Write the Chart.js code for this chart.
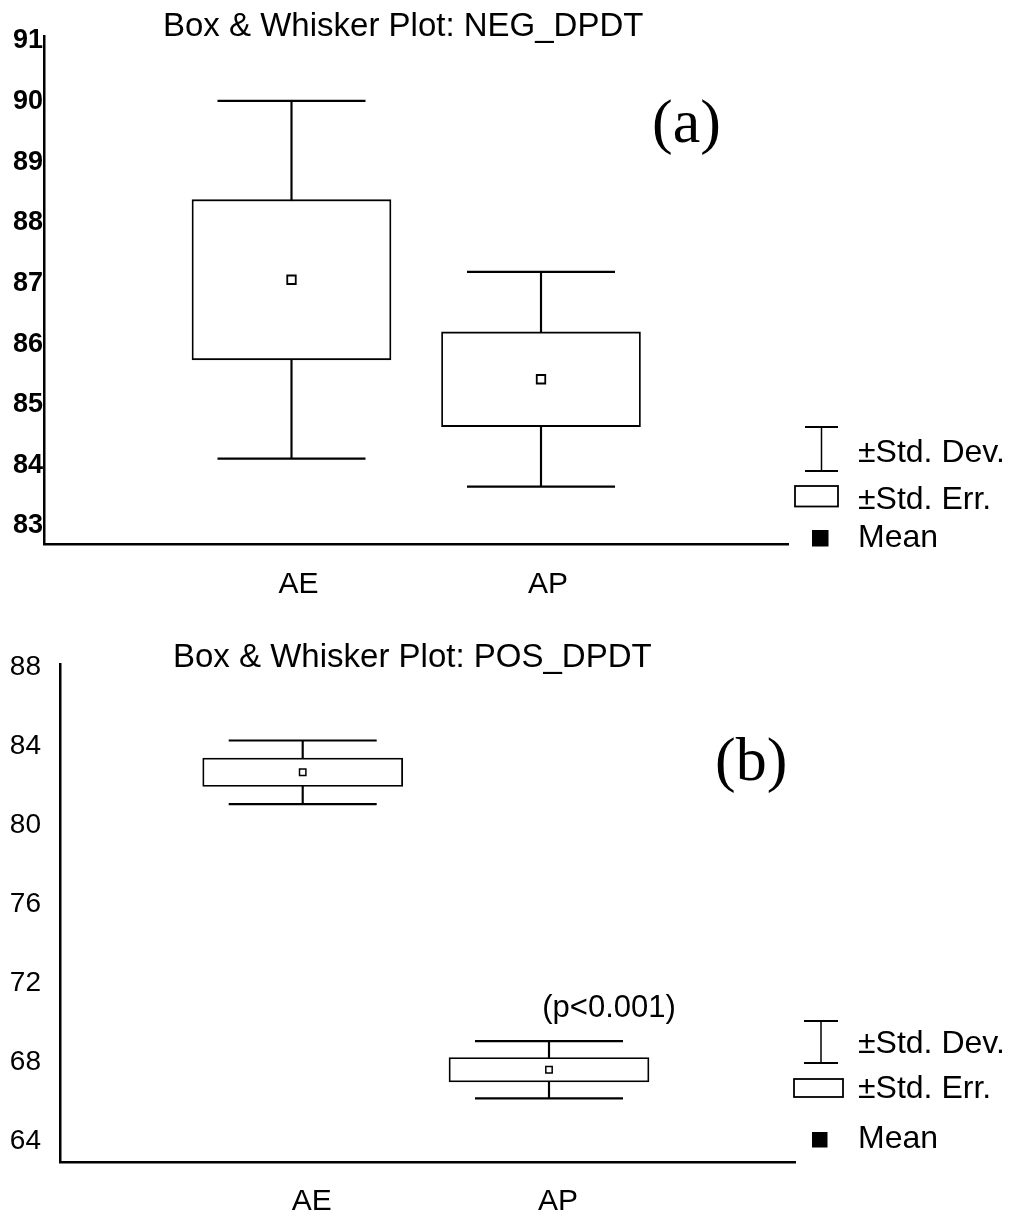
<!DOCTYPE html>
<html>
<head>
<meta charset="utf-8">
<title>Box &amp; Whisker Plots: NEG_DPDT / POS_DPDT</title>
<script src="https://cdn.jsdelivr.net/npm/chart.js@4.4.0/dist/chart.umd.min.js"></script>
<style>
  html, body { margin: 0; padding: 0; background: #fff; }
  #wrap { position: relative; width: 1022px; height: 1216px; overflow: hidden; }
  canvas { position: absolute; left: 0; }
  #neg { top: 0; }
  #pos { top: 600px; }
</style>
</head>
<body>
<div id="wrap">
  <canvas id="neg" width="1022" height="600"></canvas>
  <canvas id="pos" width="1022" height="616"></canvas>
</div>
<script>
// ---- data ----
const categories = ['AE', 'AP'];

// NEG_DPDT: mean, standard error, standard deviation per group
const negMean   = [87.06, 85.42];
const negStdErr = [1.32, 0.78];
const negStdDev = [2.95, 1.77];

// POS_DPDT
const posMean   = [82.69, 67.61];
const posStdErr = [0.72, 0.62];
const posStdDev = [1.61, 1.45];

const negTicks = [83, 84, 85, 86, 87, 88, 89, 90, 91];
const posTicks = [64, 68, 72, 76, 80, 84, 88];

const negTitle = 'Box & Whisker Plot: NEG_DPDT';
const posTitle = 'Box & Whisker Plot: POS_DPDT';
const posNote = '(p<0.001)';
const legendLabels = ['\u00b1Std. Dev.', '\u00b1Std. Err.', 'Mean'];

// ---- drawing helpers ----
const SANS = '"Liberation Sans", Arial, sans-serif';
const SERIF = '"Liberation Serif", "Times New Roman", serif';

function boxDatasets(means, errs, devs, st) {
  const xs = means.map((_, i) => i + 1);
  return [
    { // whisker stem: mean ± SD
      type: 'bar', order: 4, grouped: false, barThickness: st.stem,
      backgroundColor: '#000', borderWidth: 0,
      data: xs.map((x, i) => ({ x, y: [means[i] - devs[i], means[i] + devs[i]] }))
    },
    { // box: mean ± SE
      type: 'bar', order: 3, grouped: false, barThickness: st.box,
      backgroundColor: '#fff', borderColor: '#000', borderWidth: st.boxLine, borderSkipped: false,
      data: xs.map((x, i) => ({ x, y: [means[i] - errs[i], means[i] + errs[i]] }))
    },
    { // whisker caps
      type: 'scatter', order: 2, pointStyle: 'line', pointRadius: st.cap, pointHoverRadius: st.cap,
      borderColor: '#000', borderWidth: st.capLine,
      data: xs.flatMap((x, i) => [{ x, y: means[i] + devs[i] }, { x, y: means[i] - devs[i] }])
    },
    { // mean marker
      type: 'scatter', order: 1, pointStyle: 'rect', pointRadius: st.mark, pointHoverRadius: st.mark,
      backgroundColor: '#fff', borderColor: '#000', borderWidth: st.markLine,
      data: xs.map((x, i) => ({ x, y: means[i] }))
    }
  ];
}

function seg(ctx, x1, y1, x2, y2) {
  ctx.beginPath(); ctx.moveTo(x1, y1); ctx.lineTo(x2, y2); ctx.stroke();
}

function drawLegend(ctx, g) {
  ctx.strokeStyle = '#000';
  ctx.fillStyle = '#000';
  const mid = (g.devL + g.devR) / 2;
  ctx.lineWidth = 2;
  seg(ctx, g.devL, g.devTop, g.devR, g.devTop);
  seg(ctx, g.devL, g.devBot, g.devR, g.devBot);
  ctx.lineWidth = 1.5;
  seg(ctx, mid, g.devTop, mid, g.devBot);
  ctx.lineWidth = 1.8;
  ctx.strokeRect(g.errL, g.errT, g.errW, g.errH);
  ctx.fillRect(g.meanL, g.meanT, g.meanS, g.meanS);
  ctx.font = `32px ${SANS}`;
  ctx.textAlign = 'left';
  ctx.textBaseline = 'middle';
  ctx.fillText(legendLabels[0], g.textX, g.devY);
  ctx.fillText(legendLabels[1], g.textX, g.errY);
  ctx.fillText(legendLabels[2], g.textX, g.meanY);
}

function annotationPlugin(draw) {
  return {
    id: 'annotations',
    afterDraw(chart) {
      const ctx = chart.ctx;
      ctx.save();
      draw(ctx, chart);
      ctx.restore();
    }
  };
}

function makeChart(canvasId, c) {
  return new Chart(document.getElementById(canvasId), {
    type: 'bar',
    data: { datasets: boxDatasets(c.means, c.errs, c.devs, c.style) },
    options: {
      responsive: false,
      animation: false,
      devicePixelRatio: 1,
      events: [],
      layout: { padding: c.padding, autoPadding: false },
      plugins: { legend: { display: false }, tooltip: { enabled: false }, title: { display: false } },
      scales: {
        x: {
          type: 'linear', offset: false, min: c.xMin, max: c.xMax,
          grid: { display: false, drawTicks: false, offset: false },
          border: { display: true, color: '#000', width: 2.5 },
          afterBuildTicks: s => { s.ticks = categories.map((_, i) => ({ value: i + 1 })); },
          afterFit: s => { s.height = c.xAxisH; },
          ticks: {
            autoSkip: false, maxRotation: 0, minRotation: 0, color: '#000',
            font: { family: SANS, size: 30 }, padding: c.xPad, labelOffset: c.xLabelOffset,
            callback: v => categories[v - 1] ?? ''
          }
        },
        y: {
          type: 'linear', min: c.yMin, max: c.yMax,
          grid: { display: false, drawTicks: false },
          border: { display: true, color: '#000', width: 2.5 },
          afterBuildTicks: s => { s.ticks = c.ticks.map(v => ({ value: v })); },
          afterFit: s => { s.width = c.yAxisW; },
          ticks: {
            autoSkip: false, color: '#000', font: c.yFont, padding: c.yPad,
            callback: v => String(v)
          }
        }
      }
    },
    plugins: [annotationPlugin(c.draw)]
  });
}

// ---- (a) NEG_DPDT ----
makeChart('neg', {
  means: negMean, errs: negStdErr, devs: negStdDev, ticks: negTicks,
  style: { stem: 1.5, box: 199, boxLine: 1.8, cap: 74, capLine: 2.2, mark: 6, markLine: 1.8 },
  padding: { top: 36, right: 234, bottom: 0, left: 0 },
  xMin: 0.008, xMax: 2.99, yMin: 82.704, yMax: 91.078,
  xAxisH: 56, yAxisW: 44, xPad: 23, xLabelOffset: 7, yPad: 1,
  yFont: { family: SANS, size: 27, weight: 'bold' },
  draw(ctx) {
    ctx.fillStyle = '#000';
    ctx.textAlign = 'left';
    ctx.textBaseline = 'alphabetic';
    ctx.font = `33px ${SANS}`;
    ctx.fillText(negTitle, 163, 35.5);
    ctx.font = `62px ${SERIF}`;
    ctx.fillText('(a)', 652, 142);
    drawLegend(ctx, {
      devL: 805, devR: 838, devTop: 427, devBot: 471,
      errL: 795, errT: 486, errW: 43, errH: 20.5,
      meanL: 812, meanT: 530, meanS: 16.5,
      textX: 858, devY: 453, errY: 500, meanY: 538
    });
  }
});

// ---- (b) POS_DPDT ----
makeChart('pos', {
  means: posMean, errs: posStdErr, devs: posStdDev, ticks: posTicks,
  style: { stem: 1.5, box: 200, boxLine: 1.8, cap: 74, capLine: 2.2, mark: 4.5, markLine: 1.5 },
  padding: { top: 64, right: 227, bottom: 0, left: 0 },
  xMin: 0.0146, xMax: 2.9988, yMin: 62.937, yMax: 88.177,
  xAxisH: 54, yAxisW: 60, xPad: 22, xLabelOffset: 9, yPad: 19,
  yFont: { family: SANS, size: 28 },
  draw(ctx) {
    ctx.fillStyle = '#000';
    ctx.textAlign = 'left';
    ctx.textBaseline = 'alphabetic';
    ctx.font = `33px ${SANS}`;
    ctx.fillText(posTitle, 173, 66.5);
    ctx.font = `62px ${SERIF}`;
    ctx.fillText('(b)', 715, 180);
    ctx.font = `31px ${SANS}`;
    ctx.textAlign = 'center';
    ctx.textBaseline = 'middle';
    ctx.fillText(posNote, 609, 408);
    drawLegend(ctx, {
      devL: 804, devR: 838, devTop: 421, devBot: 463,
      errL: 794, errT: 479, errW: 49, errH: 18,
      meanL: 812, meanT: 532, meanS: 15.5,
      textX: 858, devY: 444, errY: 489, meanY: 539
    });
  }
});
</script>
</body>
</html>
